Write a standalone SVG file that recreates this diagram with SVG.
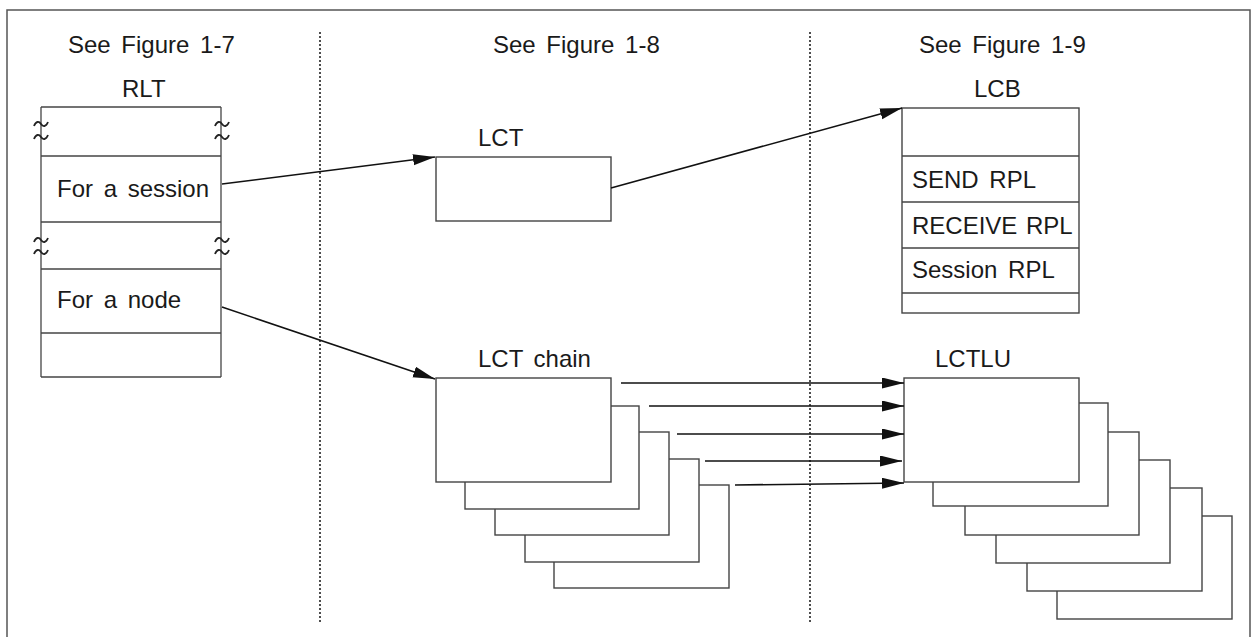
<svg xmlns="http://www.w3.org/2000/svg" width="1252" height="637" viewBox="0 0 1252 637">
<style>
text{font-family:"Liberation Sans",Arial,sans-serif;font-size:24px;fill:#1a1a1a;word-spacing:4px}
.box{fill:#fff;stroke:#444;stroke-width:1.4}
.sep{stroke:#444;stroke-width:1.3}
.til{fill:none;stroke:#222;stroke-width:1.8}
.arr{fill:none;stroke:#111;stroke-width:1.6;marker-end:url(#ah)}
.dot{stroke:#222;stroke-width:1.6;stroke-dasharray:2 2}
</style>
<defs>
<marker id="ah" markerUnits="userSpaceOnUse" markerWidth="23" markerHeight="12" refX="22" refY="5.5" orient="auto">
<path d="M0,0 L22,5.5 L0,11 z" fill="#111"/>
</marker>
<path id="tl" class="til" d="M-7,2 C-5,-3 -2,-3 0,0 S5,3 7,-2"/>
</defs>
<rect width="1252" height="637" fill="#fff"/>
<path d="M7,637 V10 H1250 V637" fill="none" stroke="#555" stroke-width="1.5"/>
<g id="dividers">
<line class="dot" x1="320" y1="32" x2="320" y2="622"/>
<line class="dot" x1="810" y1="32" x2="810" y2="622"/>
</g>
<g id="headers">
<text x="68" y="53">See Figure 1-7</text>
<text x="493" y="53">See Figure 1-8</text>
<text x="919" y="53">See Figure 1-9</text>
</g>
<g id="rlt">
<text x="122" y="97">RLT</text>
<line class="sep" x1="41" y1="107" x2="221" y2="107"/>
<line class="sep" x1="41" y1="107" x2="41" y2="377"/>
<line class="sep" x1="221" y1="107" x2="221" y2="377"/>
<line class="sep" x1="41" y1="156" x2="221" y2="156"/>
<line class="sep" x1="41" y1="222" x2="221" y2="222"/>
<line class="sep" x1="41" y1="269" x2="221" y2="269"/>
<line class="sep" x1="41" y1="333" x2="221" y2="333"/>
<line class="sep" x1="41" y1="377" x2="221" y2="377"/>
<use href="#tl" x="41" y="124"/>
<use href="#tl" x="41" y="137"/>
<use href="#tl" x="222" y="124"/>
<use href="#tl" x="222" y="137"/>
<use href="#tl" x="41" y="240"/>
<use href="#tl" x="41" y="252"/>
<use href="#tl" x="222" y="240"/>
<use href="#tl" x="222" y="252"/>
<text x="57" y="197">For a session</text>
<text x="57" y="308">For a node</text>
</g>
<g id="lct">
<text x="478" y="146">LCT</text>
<rect class="box" x="436" y="157" width="175" height="64"/>
</g>
<g id="lcb">
<text x="974" y="97">LCB</text>
<rect class="box" x="902" y="108" width="177" height="205"/>
<line class="sep" x1="902" y1="156" x2="1079" y2="156"/>
<line class="sep" x1="902" y1="202" x2="1079" y2="202"/>
<line class="sep" x1="902" y1="248" x2="1079" y2="248"/>
<line class="sep" x1="902" y1="293" x2="1079" y2="293"/>
<text x="912" y="188">SEND RPL</text>
<text x="912" y="234" style="word-spacing:2px">RECEIVE RPL</text>
<text x="912" y="278">Session RPL</text>
</g>
<g id="lct-chain">
<text x="478" y="367">LCT chain</text>
<rect class="box" x="554" y="485" width="175" height="103"/>
<rect class="box" x="525" y="459" width="174" height="103"/>
<rect class="box" x="495" y="432" width="174" height="103"/>
<rect class="box" x="465" y="406" width="174" height="103"/>
<rect class="box" x="436" y="378" width="175" height="104"/>
</g>
<g id="lctlu">
<text x="935" y="367">LCTLU</text>
<rect class="box" x="1057" y="516" width="175" height="103"/>
<rect class="box" x="1027" y="488" width="175" height="103"/>
<rect class="box" x="996" y="460" width="174" height="103"/>
<rect class="box" x="965" y="432" width="174" height="103"/>
<rect class="box" x="933" y="403" width="175" height="103"/>
<rect class="box" x="904" y="378" width="175" height="104"/>
</g>
<g id="connectors">
<line class="arr" x1="222" y1="184" x2="435" y2="157"/>
<line class="arr" x1="611" y1="188" x2="902" y2="108"/>
<line class="arr" x1="222" y1="307" x2="435" y2="379"/>
<line class="arr" x1="621" y1="383" x2="904" y2="383"/>
<line class="arr" x1="649" y1="406" x2="904" y2="406"/>
<line class="arr" x1="677" y1="434" x2="904" y2="434"/>
<line class="arr" x1="705" y1="461" x2="902" y2="461"/>
<line class="arr" x1="735" y1="485" x2="904" y2="483"/>
</g>
</svg>
